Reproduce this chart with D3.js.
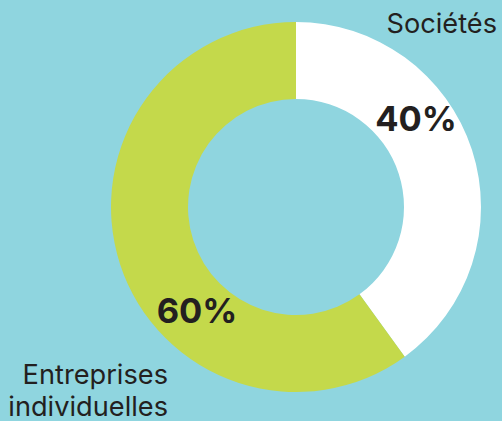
<!DOCTYPE html>
<html>
<head>
<meta charset="utf-8">
<script src="https://cdn.jsdelivr.net/npm/d3@7"></script>
<style>
  body { margin: 0; background: #8fd5df; }
  svg { display: block; }
  text { font-family: Inter, "Noto Sans", sans-serif; fill: #231f20; }
</style>
</head>
<body>
<div id="chart-area"></div>
<script>
const width = 502;
const height = 421;

const categories = ["Sociétés", "Entreprises individuelles"];
const values = [40, 60];
const colors = ["#ffffff", "#c4d94b"];

const cx = 296, cy = 207;
const outerR = 185, innerR = 108;

const svg = d3.select("#chart-area")
    .append("svg")
    .attr("width", width)
    .attr("height", height);

svg.append("rect")
    .attr("width", width)
    .attr("height", height)
    .attr("fill", "#8fd5df");

const g = svg.append("g")
    .attr("transform", `translate(${cx},${cy})`);

const pie = d3.pie().sort(null).value(d => d);
const arc = d3.arc().innerRadius(innerR).outerRadius(outerR);

g.selectAll("path")
    .data(pie(values))
    .enter()
    .append("path")
    .attr("d", arc)
    .attr("fill", (d, i) => colors[i]);

// percent labels
svg.append("text")
    .attr("x", 416).attr("y", 131)
    .attr("text-anchor", "middle")
    .attr("font-size", 34.5).attr("font-weight", 700)
    .text(values[0] + "%");

svg.append("text")
    .attr("x", 197).attr("y", 323)
    .attr("text-anchor", "middle")
    .attr("font-size", 34.5).attr("font-weight", 700)
    .text(values[1] + "%");

// category labels
svg.append("text")
    .attr("x", 497).attr("y", 33)
    .attr("text-anchor", "end")
    .attr("font-size", 27.2)
    .text(categories[0]);

const lbl = svg.append("text")
    .attr("text-anchor", "end")
    .attr("font-size", 27.2);
["Entreprises", "individuelles"].forEach((w, i) => {
    lbl.append("tspan")
        .attr("x", 168)
        .attr("y", 384 + i * 32)
        .text(w);
});
</script>
</body>
</html>
